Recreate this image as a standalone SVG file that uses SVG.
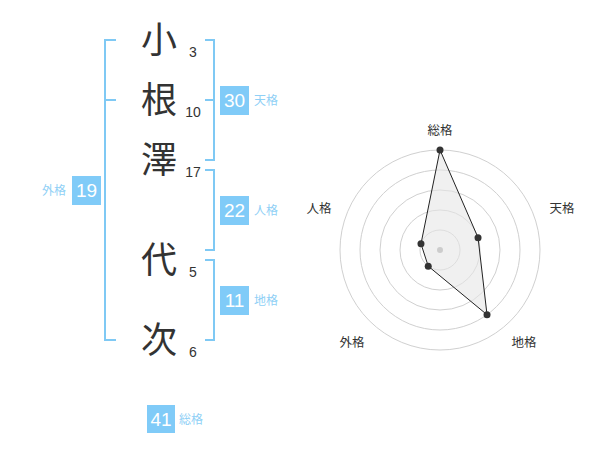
<svg xmlns="http://www.w3.org/2000/svg" width="600" height="470" viewBox="0 0 600 470">
<style>
.bg{fill:#ffffff}
.br{fill:none;stroke:#7fc9f4;stroke-width:2}
.box{fill:#80cbf8}
.bn{font-family:"Liberation Sans",Arial,sans-serif;font-size:19px;fill:#ffffff;text-anchor:middle}
.bl{font-family:"Noto Sans CJK JP",sans-serif;font-size:12px;fill:#8fd0f6}
.ch{font-family:"Noto Sans CJK JP",sans-serif;font-size:36px;fill:#333333;text-anchor:middle}
.sn{font-family:"Liberation Sans",Arial,sans-serif;font-size:14px;fill:#333333;text-anchor:middle}
.ring{fill:none;stroke:#d0d0d0;stroke-width:1}
.rl{font-family:"Noto Sans CJK JP",sans-serif;font-size:12.5px;fill:#333333;text-anchor:middle}
.pt{fill:#333333}
</style>
<rect class="bg" x="0" y="0" width="600" height="470"/>
<g id="connectors">
<path class="br" d="M116,40 H105 V340 H116 M105,100 H116"/>
<path class="br" d="M205,40 H214 V160 H205 M214,100 H205"/>
<path class="br" d="M205,170 H214 V250 H205"/>
<path class="br" d="M205,260 H214 V340 H205"/>
</g>
<g id="char-1"><text class="ch" x="159" y="53">小</text><text class="sn" x="193" y="57">3</text></g>
<g id="char-2"><text class="ch" x="159" y="113">根</text><text class="sn" x="193" y="117">10</text></g>
<g id="char-3"><text class="ch" x="159" y="173">澤</text><text class="sn" x="193" y="177">17</text></g>
<g id="char-4"><text class="ch" x="159" y="273">代</text><text class="sn" x="193" y="277">5</text></g>
<g id="char-5"><text class="ch" x="159" y="353">次</text><text class="sn" x="193" y="357">6</text></g>
<g id="gaikaku"><rect class="box" x="72" y="176" width="29" height="29"/><text class="bn" x="86.5" y="197">19</text><text class="bl" x="66" y="195" text-anchor="end">外格</text></g>
<g id="tenkaku"><rect class="box" x="220" y="86" width="29" height="29"/><text class="bn" x="234.5" y="107">30</text><text class="bl" x="254" y="105">天格</text></g>
<g id="jinkaku"><rect class="box" x="220" y="196" width="29" height="29"/><text class="bn" x="234.5" y="217">22</text><text class="bl" x="254" y="215">人格</text></g>
<g id="chikaku"><rect class="box" x="220" y="286" width="29" height="29"/><text class="bn" x="234.5" y="307">11</text><text class="bl" x="254" y="305">地格</text></g>
<g id="soukaku"><rect class="box" x="147" y="405" width="28" height="28"/><text class="bn" x="161" y="426">41</text><text class="bl" x="179" y="424">総格</text></g>
<g id="radar">
<circle class="ring" cx="440" cy="250" r="20"/>
<circle class="ring" cx="440" cy="250" r="40"/>
<circle class="ring" cx="440" cy="250" r="60"/>
<circle class="ring" cx="440" cy="250" r="80"/>
<circle class="ring" cx="440" cy="250" r="100"/>
<polygon points="440,150 478.04,237.64 487.02,314.72 428.24,266.18 420.98,243.82" fill="#e6e6e6" fill-opacity="0.6" stroke="#222222" stroke-width="1"/>
<circle cx="440" cy="250" r="3" fill="#cccccc"/>
<circle class="pt" cx="440" cy="150" r="3.5"/>
<circle class="pt" cx="478.04" cy="237.64" r="3.5"/>
<circle class="pt" cx="487.02" cy="314.72" r="3.5"/>
<circle class="pt" cx="428.24" cy="266.18" r="3.5"/>
<circle class="pt" cx="420.98" cy="243.82" r="3.5"/>
<text class="rl" x="440" y="135">総格</text>
<text class="rl" x="562" y="213">天格</text>
<text class="rl" x="524" y="347">地格</text>
<text class="rl" x="352" y="347">外格</text>
<text class="rl" x="319" y="213">人格</text>
</g>
</svg>
